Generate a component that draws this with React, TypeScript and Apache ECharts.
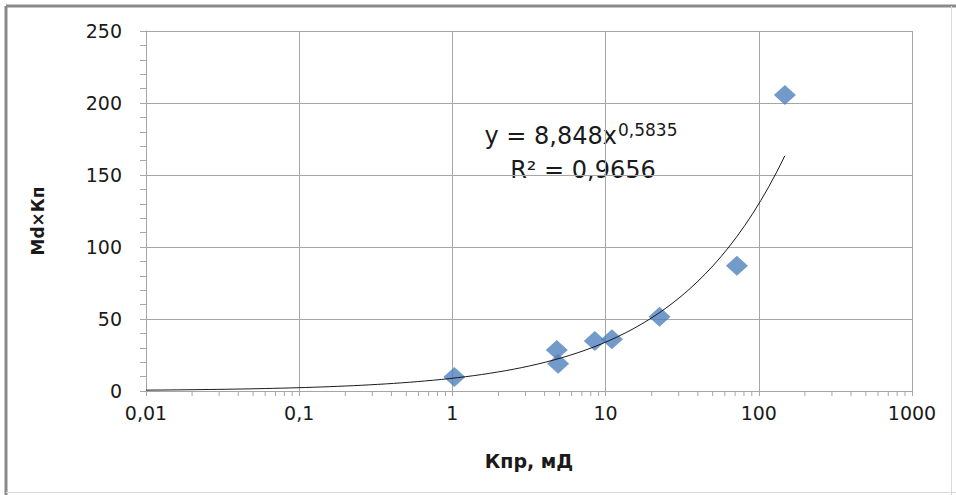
import React, { useEffect, useRef } from "react";
import * as echarts from "echarts";

// Data
const kpr: number[] = [1.03, 4.8, 4.9, 8.5, 11, 22.5, 72, 148];
const mdkp: number[] = [9.7, 28.5, 19, 34.7, 36, 51.5, 87, 205.5];

// Power trendline shown on the chart: y = 8,848x^0,5835
const trendA = 8.848;
const trendB = 0.5835;
const trendFrom = 0.01;
const trendTo = 148;

const xTickValues: number[] = [0.01, 0.1, 1, 10, 100, 1000];
const yTickValues: number[] = [0, 50, 100, 150, 200, 250];
const minorMultipliers: number[] = [2, 3, 4, 5, 6, 7, 8, 9];
const decades: number[] = [0.01, 0.1, 1, 10, 100];

const eqLine1 = "y = 8,848x";
const eqSup = "0,5835";
const eqLine2 = "R² = 0,9656";
const xName = "Кпр, мД";
const yName = "Md×Кп";

const FONT = "'DejaVu Sans', Verdana, sans-serif";
const GRID = "#a6a6a6";

export default function App() {
  const ref = useRef<HTMLDivElement>(null);
  useEffect(() => {
    if (!ref.current) return;
    const chart = echarts.init(ref.current, null, { renderer: "svg" });

    const trend: number[][] = [];
    const n = 80;
    const l0 = Math.log10(trendFrom);
    const l1 = Math.log10(trendTo);
    for (let i = 0; i <= n; i++) {
      const x = Math.pow(10, l0 + ((l1 - l0) * i) / n);
      trend.push([x, trendA * Math.pow(x, trendB)]);
    }
    const minor: number[][] = [];
    decades.forEach((d) => minorMultipliers.forEach((m) => minor.push([d * m, 0])));

    chart.setOption({
      animation: false,
      backgroundColor: "#ffffff",
      grid: { left: 146, right: 44, top: 31, bottom: 104, containLabel: false },
      xAxis: {
        type: "log",
        logBase: 10,
        min: xTickValues[0],
        max: xTickValues[xTickValues.length - 1],
        name: xName,
        nameLocation: "middle",
        nameGap: 60,
        nameTextStyle: { fontFamily: FONT, fontSize: 19, fontWeight: "bold", color: "#1a1a1a" },
        axisLine: { show: true, lineStyle: { color: GRID, width: 1 } },
        axisTick: { show: true, length: 5, inside: false, lineStyle: { color: GRID } },
        minorTick: { show: false },
        splitLine: { show: true, lineStyle: { color: GRID, width: 1 } },
        axisLabel: {
          fontFamily: FONT,
          fontSize: 19,
          color: "#1a1a1a",
          margin: 12,
          formatter: (v: number) => String(v).replace(".", ","),
        },
      },
      yAxis: {
        type: "value",
        min: yTickValues[0],
        max: yTickValues[yTickValues.length - 1],
        interval: 50,
        name: yName,
        nameLocation: "middle",
        nameGap: 100,
        nameRotate: 90,
        nameTextStyle: {
          fontFamily: FONT,
          fontSize: 17,
          fontWeight: "bold",
          color: "#1a1a1a",
          padding: [0, 20, 0, 0],
        },
        axisLine: { show: true, lineStyle: { color: GRID, width: 1 } },
        axisTick: { show: true, length: 6, inside: false, lineStyle: { color: GRID } },
        minorTick: { show: true, splitNumber: 5, length: 6, lineStyle: { color: GRID } },
        splitLine: { show: true, lineStyle: { color: GRID, width: 1 } },
        axisLabel: { fontFamily: FONT, fontSize: 19, color: "#1a1a1a", margin: 24 },
      },
      graphic: [
        { type: "line", shape: { x1: 6, y1: 6, x2: 956, y2: 6 }, style: { stroke: "#8a8a8a", lineWidth: 3 } },
        { type: "line", shape: { x1: 6, y1: 6, x2: 6, y2: 495 }, style: { stroke: "#8a8a8a", lineWidth: 3 } },
        { type: "line", shape: { x1: 6, y1: 492.5, x2: 956, y2: 492.5 }, style: { stroke: "#d9d9d9", lineWidth: 1 } },
        { type: "line", shape: { x1: 951.5, y1: 6, x2: 951.5, y2: 495 }, style: { stroke: "#d9d9d9", lineWidth: 1 } },
        {
          type: "text",
          x: 617,
          y: 136,
          style: { text: eqLine1, font: `24px ${FONT}`, fill: "#1a1a1a", textAlign: "right", textVerticalAlign: "middle" },
        },
        {
          type: "text",
          x: 618,
          y: 130,
          style: { text: eqSup, font: `17px ${FONT}`, fill: "#1a1a1a", textAlign: "left", textVerticalAlign: "middle" },
        },
        {
          type: "text",
          x: 583,
          y: 170,
          style: { text: eqLine2, font: `24px ${FONT}`, fill: "#1a1a1a", textAlign: "center", textVerticalAlign: "middle" },
        },
      ],
      series: [
        {
          type: "custom",
          clip: false,
          silent: true,
          data: minor,
          renderItem: (_params: any, api: any) => {
            const p = api.coord([api.value(0), 0]);
            return {
              type: "line",
              shape: { x1: p[0], y1: p[1], x2: p[0], y2: p[1] + 5 },
              style: { stroke: GRID, lineWidth: 1 },
            };
          },
          z: 1,
        },
        {
          type: "line",
          data: trend,
          showSymbol: false,
          symbol: "none",
          smooth: false,
          lineStyle: { color: "#1a1a1a", width: 1 },
          z: 3,
          silent: true,
        },
        {
          type: "scatter",
          data: kpr.map((x, i) => [x, mdkp[i]]),
          symbol: "diamond",
          symbolSize: [22, 20],
          itemStyle: { color: "#4F81BD" },
          z: 2,
        },
      ],
    });
    return () => chart.dispose();
  }, []);
  return <div ref={ref} style={{ position: "fixed", left: 0, top: 0, width: 956, height: 495 }} />;
}
